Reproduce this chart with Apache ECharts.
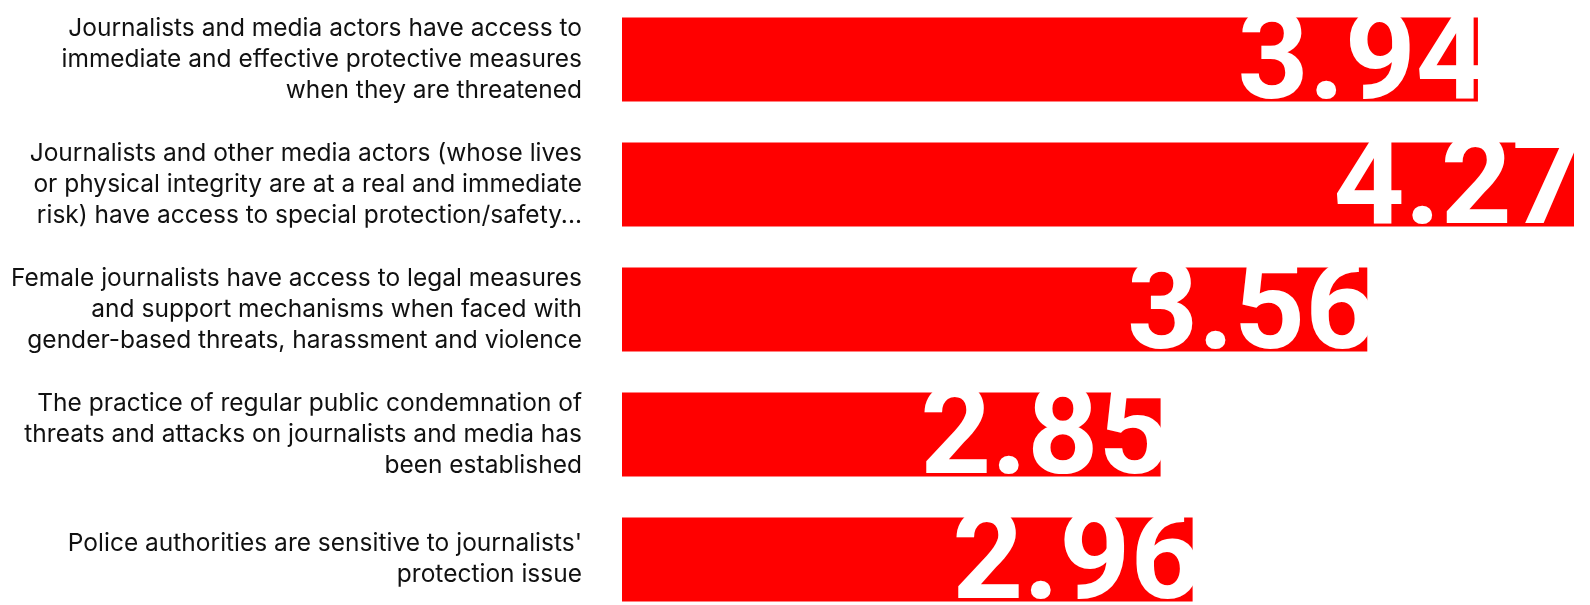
<!DOCTYPE html>
<html>
<head>
<meta charset="utf-8">
<title>Journalist safety indicators</title>
<script src="https://cdn.jsdelivr.net/npm/echarts@6/dist/echarts.min.js"></script>
<style>
  html, body {
    margin: 0;
    padding: 0;
    background: #fff;
  }
  #chart {
    width: 1590px;
    height: 605px;
  }
</style>
</head>
<body>
<div id="chart"></div>
<script>
// statements, top to bottom
const categories = [
  'Journalists and media actors have access to\nimmediate and effective protective measures\nwhen they are threatened',
  'Journalists and other media actors (whose lives\nor physical integrity are at a real and immediate\nrisk) have access to special protection/safety...',
  'Female journalists have access to legal measures\nand support mechanisms when faced with\ngender-based threats, harassment and violence',
  'The practice of regular public condemnation of\nthreats and attacks on journalists and media has\nbeen established',
  'Police authorities are sensitive to journalists\'\nprotection issue'
]

const scores = [3.94, 4.27, 3.56, 2.85, 2.96]

const chart = echarts.init(document.getElementById('chart'))

const option = {
  animation: false,
  grid: {
    left: 622,
    right: 16,
    top: -3,
    height: 625,
    containLabel: false,
    outerBoundsMode: 'none'
  },
  xAxis: {
    type: 'value',
    show: false,
    min: 1,
    max: 4.27
  },
  yAxis: {
    type: 'category',
    inverse: true,
    data: categories,
    axisLine: { show: false },
    axisTick: { show: false },
    axisLabel: {
      margin: 40,
      fontFamily: 'Inter',
      fontSize: 24.5,
      lineHeight: 31,
      color: '#111'
    }
  },
  series: [
    {
      type: 'bar',
      data: scores,
      barWidth: 84,
      itemStyle: {
        color: '#ff0000'
      },
      label: {
        show: true,
        position: 'insideRight',
        distance: 0,
        offset: [9, 7],
        formatter: (p) => p.value.toFixed(2),
        fontFamily: 'Roboto',
        fontWeight: 'bold',
        fontSize: 124,
        color: '#fff'
      }
    }
  ]
}

chart.setOption(option)
</script>
</body>
</html>
